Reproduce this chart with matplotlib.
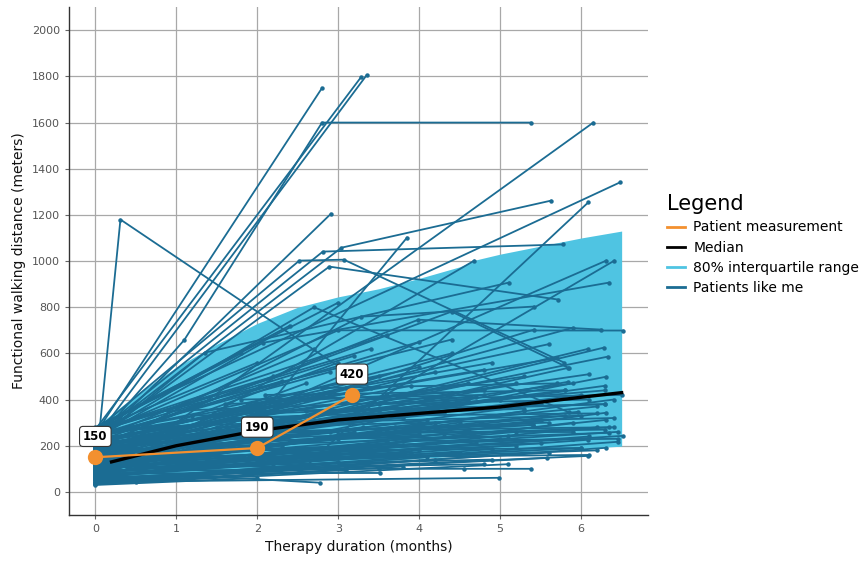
import matplotlib
matplotlib.use("Agg")
import matplotlib.pyplot as plt
from matplotlib.lines import Line2D

# ── colours ──
DARK_BLUE = "#1b6c93"
LIGHT_BLUE = "#4fc4e2"
ORANGE = "#f3902f"

# ── patient measurement ──
meas_x = [0, 2, 3.17]
meas_y = [150, 190, 420]
meas_labels = ["150", "190", "420"]

# ── median curve ──
median_x = [0.2, 1, 2, 3, 4, 5, 6, 6.5]
median_y = [130, 200, 265, 312, 340, 368, 410, 430]

# ── 80% band ──
band_x = [0, 0.5, 1, 1.5, 2, 2.5, 3, 3.5, 4, 4.5, 4.7, 5, 5.5, 6, 6.5]
band_lo = [30, 45, 60, 75, 90, 105, 120, 132, 145, 155, 160, 168, 178, 188, 198]
band_hi = [280, 420, 540, 640, 730, 800, 845, 880, 925, 975, 1005, 1030, 1065, 1100, 1130]

# ── patients like me (one list per patient) ──
patient_x = [
    [0.05, 0.31, 3.4], [0, 2.80], [0, 3.28], [0, 3.35], [0, 1.1, 2.8, 5.38],
    [0, 2.91], [0.05, 6.15], [0.1, 6.48], [0, 2.6, 6.09], [0, 3.04, 5.63],
    [0, 2.81, 5.78], [0, 2.52, 3.07, 5.79], [0, 2.89, 5.72], [0, 2.2, 3.85],
    [0, 4.68], [0, 6.31], [0, 3.0, 6.41], [0, 2.07, 6.35], [0, 1.35, 5.11],
    [0, 3.28, 5.42], [0, 3.0, 6.52], [0, 3.99, 6.25], [0, 5.9], [0, 5.42],
    [0, 6.09], [0, 6.28], [0, 6.33], [0, 5.85], [0, 6.31], [0, 5.84],
    [0, 6.31], [0, 5.96], [0, 6.31], [0, 6.35], [0, 6.52], [0, 6.45],
    [0, 6.09], [0, 6.31], [0, 6.09], [0, 5.58], [0, 3.5, 4.55, 5.38],
    [0.5, 4.98], [1.2, 2.77], [0, 3.51], [0, 4.4, 5.84], [0, 2.7, 5.85],
    [0, 2.0], [0, 3.0], [0, 2.5], [0, 4.0], [0, 3.2], [0, 5.0], [0, 2.8],
    [0, 4.5], [0, 3.6], [0, 2.2], [0, 5.5], [0, 3.9], [0, 2.6], [0, 4.8],
    [0, 3.3], [0, 6.0], [0, 2.4], [0, 4.2], [0, 3.0], [0, 5.2], [0, 3.7],
    [0, 2.9], [0, 4.4], [0, 3.5], [0, 5.6], [0, 2.7], [0, 4.0], [0, 3.2],
    [0, 4.9], [0, 3.6], [0, 2.4], [0, 3.0], [0, 5.9], [0, 4.7], [0, 6.2],
    [0, 5.3], [0, 6.4], [0, 4.3], [0, 5.8], [0, 3.4], [0, 6.3], [0, 5.0],
    [0, 6.1], [0, 4.6], [0, 3.9], [0, 5.7], [0, 2.0], [0, 1.5], [0, 2.0],
    [0, 1.8], [0, 3.8], [0, 4.1], [0, 5.1], [0, 2.0], [0, 1.7], [0, 1.9],
    [0, 3.0], [0, 4.3], [0, 5.4], [0, 6.0], [0, 6.45], [0, 3.3], [0, 2.3],
    [0, 5.9], [0, 4.5], [0, 2.8], [0, 2.2], [0, 6.3], [0, 4.8],
    [0, 3.1], [0, 4.2], [0, 2.5], [0, 5.6], [0, 3.8], [0, 4.9], [0, 2.9],
    [0, 6.1], [0, 3.6], [0, 5.2], [0, 2.3], [0, 4.6], [0, 3.3], [0, 5.5],
    [0, 2.7], [0, 4.1], [0, 6.2], [0, 3.5], [0, 4.7], [0, 2.6], [0, 5.8],
    [0, 3.9], [0, 4.5], [0, 3.1], [0, 5.3], [0, 2.9], [0, 4.0], [0, 3.4],
    [0, 2.2], [0, 4.4],
    [1.5, 4.2], [2.0, 5.0], [1.0, 3.5], [2.5, 6.0], [1.8, 4.8], [3.0, 6.3],
    [2.2, 5.5], [1.2, 3.8], [3.5, 6.1], [2.8, 5.7], [1.0, 2.6], [4.0, 6.4],
    [0.5, 4.5], [1.0, 5.2], [1.5, 5.9], [2.0, 6.2], [0.8, 4.0], [1.3, 5.6],
    [2.4, 6.4], [0.6, 3.8], [1.7, 5.3], [2.6, 6.3], [3.2, 6.5], [0.9, 4.6],
    [2.1, 5.8], [3.0, 6.0], [3.8, 6.45], [1.1, 4.9], [2.3, 5.4], [3.4, 6.2],
    [0.7, 3.3], [4.2, 6.35], [1.6, 4.4], [2.7, 5.1], [3.6, 5.9], [0.4, 2.9],
    [2.9, 6.1], [4.5, 6.3], [1.9, 3.9], [3.1, 4.8],
]
patient_y = [
    [260, 1180, 450], [250, 1750], [270, 1796], [230, 1805], [220, 659, 1600, 1600],
    [215, 1205], [60, 1600], [300, 1341], [110, 110, 1255], [240, 1058, 1262],
    [250, 1041, 1072], [265, 1002, 1006, 560], [230, 976, 833], [150, 400, 1102],
    [40, 1002], [40, 1002], [200, 300, 1002], [230, 646, 907], [220, 603, 907],
    [180, 759, 803], [250, 700, 699], [200, 746, 703], [150, 711], [120, 703],
    [100, 620], [90, 625], [140, 586], [80, 538], [70, 499], [110, 477],
    [60, 343], [120, 347], [80, 312], [180, 256], [100, 243], [50, 217],
    [70, 226], [40, 191], [60, 156], [50, 147], [90, 100, 100, 100],
    [45, 61], [70, 40], [80, 82], [215, 781, 538], [240, 800, 345],
    [30, 60], [45, 130], [55, 190], [65, 180], [75, 260], [85, 230], [95, 340],
    [100, 300], [110, 420], [115, 240], [125, 380], [130, 360], [140, 470], [145, 440],
    [155, 320], [160, 420], [165, 390], [170, 520], [175, 560], [185, 470], [190, 280],
    [195, 430], [205, 600], [210, 500], [220, 640], [225, 620], [235, 650], [245, 590],
    [255, 560], [265, 680], [275, 720], [280, 820], [60, 300], [70, 210], [80, 280],
    [90, 350], [105, 400], [120, 250], [135, 330], [150, 200], [160, 460], [180, 400],
    [200, 510], [215, 470], [230, 430], [240, 580], [250, 350], [260, 420], [270, 560],
    [270, 600], [40, 110], [50, 150], [35, 120], [100, 150], [110, 200], [200, 280],
    [140, 230], [190, 340], [170, 290], [90, 190], [120, 260], [60, 170], [230, 480],
    [210, 470], [150, 380], [130, 300], [75, 120], [255, 440], [245, 530],
    [35, 95], [40, 140], [50, 100], [55, 170], [65, 160], [70, 185], [80, 170],
    [85, 240], [95, 220], [100, 260], [105, 200], [115, 290], [125, 280], [130, 310],
    [140, 330], [150, 310], [155, 370], [165, 350], [175, 410], [185, 400], [190, 440],
    [200, 460], [210, 360], [220, 450], [225, 500], [240, 520], [250, 540], [260, 620],
    [265, 500], [275, 660],
    [280, 300], [350, 370], [220, 250], [300, 330], [400, 420], [250, 270],
    [180, 210], [330, 360], [380, 400], [450, 470], [140, 150], [300, 320],
    [120, 170], [150, 200], [180, 230], [130, 180], [200, 250], [250, 300],
    [220, 280], [280, 320], [320, 360], [350, 380], [400, 420], [350, 400],
    [420, 440], [180, 190], [220, 230], [110, 140], [260, 290], [330, 340],
    [170, 190], [270, 280], [380, 430], [230, 240], [260, 260], [240, 260],
    [150, 160], [360, 380], [150, 170], [110, 120],
]

fig = plt.figure(figsize=(8.68, 5.63), dpi=100)
ax = fig.add_axes([0.0795, 0.0853, 0.667, 0.902])

ax.fill_between(band_x, band_lo, band_hi, color=LIGHT_BLUE, lw=0, zorder=1)

for px, py in zip(patient_x, patient_y):
    ax.plot(px, py, color=DARK_BLUE, lw=1.3, marker="o", ms=3.2,
            markeredgewidth=0, zorder=2)

ax.plot(median_x, median_y, color="black", lw=2.4, zorder=3)

ax.plot(meas_x, meas_y, color=ORANGE, lw=1.6, marker="o", ms=11,
        markeredgewidth=0, zorder=4)
for x, y, lab in zip(meas_x, meas_y, meas_labels):
    ax.annotate(lab, (x, y), xytext=(0, 15), textcoords="offset points",
                ha="center", va="center", fontsize=8.5, fontweight="bold",
                bbox={"boxstyle": "round,pad=0.3", "facecolor": "white",
                      "edgecolor": "#333333", "lw": 0.8}, zorder=5)

# ── axes styling ──
ax.set_xlim(-0.325, 6.825)
ax.set_ylim(-100, 2100)
ax.set_xticks(range(0, 7))
ax.set_yticks(range(0, 2001, 200))
ax.grid(True, color="#a8a8a8", lw=0.9, zorder=0)
ax.set_axisbelow(True)
for side in ("top", "right"):
    ax.spines[side].set_visible(False)
for side in ("left", "bottom"):
    ax.spines[side].set_color("#333333")
    ax.spines[side].set_linewidth(1.0)
ax.tick_params(colors="#666666", labelsize=8, length=3, labelcolor="#555555")
ax.set_xlabel("Therapy duration (months)", fontsize=10, color="#111111")
ax.set_ylabel("Functional walking distance (meters)", fontsize=10, color="#111111")

handles = [
    Line2D([], [], color=ORANGE, lw=2),
    Line2D([], [], color="black", lw=2),
    Line2D([], [], color=LIGHT_BLUE, lw=2),
    Line2D([], [], color=DARK_BLUE, lw=2),
]
names = ["Patient measurement", "Median", "80% interquartile range", "Patients like me"]
leg = fig.legend(handles, names, loc="upper left", bbox_to_anchor=(0.762, 0.665),
                 frameon=False, fontsize=10, title="Legend", handlelength=1.3,
                 handletextpad=0.6, labelspacing=0.45, borderaxespad=0)
leg.get_title().set_fontsize(15)
leg._legend_box.align = "left"

fig.savefig("out.png", dpi=100)
